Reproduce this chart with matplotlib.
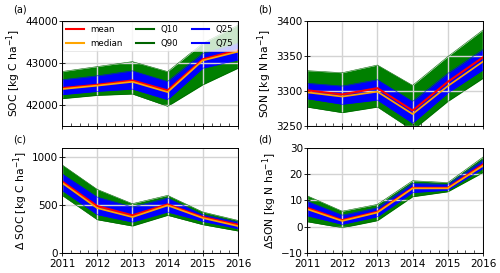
import numpy as np
import matplotlib
matplotlib.use("Agg")
import matplotlib.pyplot as plt
from matplotlib.ticker import MultipleLocator

years = [2011, 2012, 2013, 2014, 2015, 2016]

# SOC
soc_mean = [42402, 42480, 42583, 42346, 43087, 43307]
soc_med = [42378, 42460, 42551, 42307, 43060, 43268]
soc_q10 = [42150, 42228, 42260, 41969, 42480, 42874]
soc_q25 = [42245, 42323, 42378, 42126, 42874, 43071]
soc_q75 = [42600, 42693, 42811, 42559, 43228, 43465]
soc_q90 = [42795, 42913, 43031, 42795, 43465, 43900]

# SON
son_mean = [3301, 3295, 3304, 3272, 3313, 3348]
son_med = [3298, 3292, 3299, 3267, 3307, 3342]
son_q10 = [3277, 3269, 3277, 3244, 3285, 3318]
son_q25 = [3289, 3281, 3287, 3254, 3297, 3330]
son_q75 = [3311, 3307, 3316, 3285, 3325, 3359]
son_q90 = [3329, 3326, 3337, 3308, 3349, 3387]

# delta SOC
dsoc_mean = [749, 491, 394, 509, 376, 296]
dsoc_med = [735, 470, 376, 498, 366, 282]
dsoc_q10 = [603, 348, 282, 394, 296, 230]
dsoc_q25 = [655, 401, 324, 429, 331, 254]
dsoc_q75 = [829, 585, 481, 575, 401, 324]
dsoc_q90 = [923, 666, 516, 603, 429, 341]

# delta SON
dson_mean = [7.2, 2.5, 5.7, 14.8, 14.8, 23.7]
dson_med = [6.7, 2.2, 5.4, 14.6, 14.6, 23.2]
dson_q10 = [1.9, -0.4, 2.3, 11.4, 13.3, 20.6]
dson_q25 = [4.2, 0.9, 3.8, 13.0, 13.9, 22.2]
dson_q75 = [9.7, 4.4, 7.2, 16.5, 16.1, 25.3]
dson_q90 = [11.8, 5.9, 8.5, 17.5, 16.8, 26.5]

plt.rcParams['font.size'] = 15

fig = plt.figure(figsize=(10, 5.46), dpi=50)
w = 0.352
h = 0.385
ax_a = fig.add_axes([0.124, 0.5385, w, h])
ax_b = fig.add_axes([0.614, 0.5385, w, h], sharex=ax_a)
ax_c = fig.add_axes([0.124, 0.0733, w, h], sharex=ax_a)
ax_d = fig.add_axes([0.614, 0.0733, w, h], sharex=ax_a)


def draw(ax, mean, med, q10, q25, q75, q90):
    ax.fill_between(years, q10, q90, color='green', lw=0)
    ax.fill_between(years, q25, q75, color='blue', lw=0)
    ax.plot(years, mean, color='red', lw=3, label='mean')
    ax.plot(years, med, color='orange', lw=2.5, label='median')
    ax.plot(years, q10, color='darkgreen', lw=0.8, label='Q10')
    ax.plot(years, q90, color='darkgreen', lw=0.8, label='Q90')
    ax.plot(years, q25, color='blue', lw=0.8, label='Q25')
    ax.plot(years, q75, color='blue', lw=0.8, label='Q75')
    ax.grid(True, color='lightgray', lw=2)
    ax.xaxis.set_minor_locator(MultipleLocator(0.25))
    ax.tick_params(which='major', direction='inout', length=8, width=1.2, pad=2)
    ax.tick_params(axis='x', which='major', pad=4)
    ax.tick_params(which='minor', direction='in', length=4, width=1)
    for s in ax.spines.values():
        s.set_linewidth(1.4)


draw(ax_a, soc_mean, soc_med, soc_q10, soc_q25, soc_q75, soc_q90)
draw(ax_b, son_mean, son_med, son_q10, son_q25, son_q75, son_q90)
draw(ax_c, dsoc_mean, dsoc_med, dsoc_q10, dsoc_q25, dsoc_q75, dsoc_q90)
draw(ax_d, dson_mean, dson_med, dson_q10, dson_q25, dson_q75, dson_q90)

ax_a.set_xlim(2011, 2016)
ax_a.set_xticks(years)

ax_a.set_ylim(41500, 44000)
ax_a.set_yticks([42000, 43000, 44000])
ax_b.set_ylim(3250, 3400)
ax_b.set_yticks([3250, 3300, 3350, 3400])
ax_c.set_ylim(0, 1100)
ax_c.set_yticks([0, 500, 1000])
ax_d.set_ylim(-10, 30)
ax_d.set_yticks([-10, 0, 10, 20, 30])

for ax in (ax_a, ax_b):
    plt.setp(ax.get_xticklabels(), visible=False)

lab_size = 15.5
ax_a.set_ylabel("SOC [kg C ha$^{-1}$]", fontsize=lab_size, labelpad=3)
ax_b.set_ylabel("SON [kg N ha$^{-1}$]", fontsize=lab_size, labelpad=3)
ax_c.set_ylabel("Δ SOC [kg C ha$^{-1}$]", fontsize=lab_size, labelpad=3)
ax_d.set_ylabel("ΔSON [kg N ha$^{-1}$]", fontsize=lab_size, labelpad=3)

leg = ax_a.legend(ncol=3, loc='upper left', bbox_to_anchor=(0, 0, 1, 1), mode='expand',
                  borderaxespad=0.1, framealpha=0.8, fancybox=True, edgecolor='0.85',
                  fontsize=12.5)
for line in leg.get_lines():
    line.set_linewidth(3)

fig.text(0.026, 0.985, "(a)", va='top', fontsize=14)
fig.text(0.516, 0.985, "(b)", va='top', fontsize=14)
fig.text(0.026, 0.508, "(c)", va='top', fontsize=14)
fig.text(0.516, 0.508, "(d)", va='top', fontsize=14)

fig.savefig("out.png", dpi=50)
